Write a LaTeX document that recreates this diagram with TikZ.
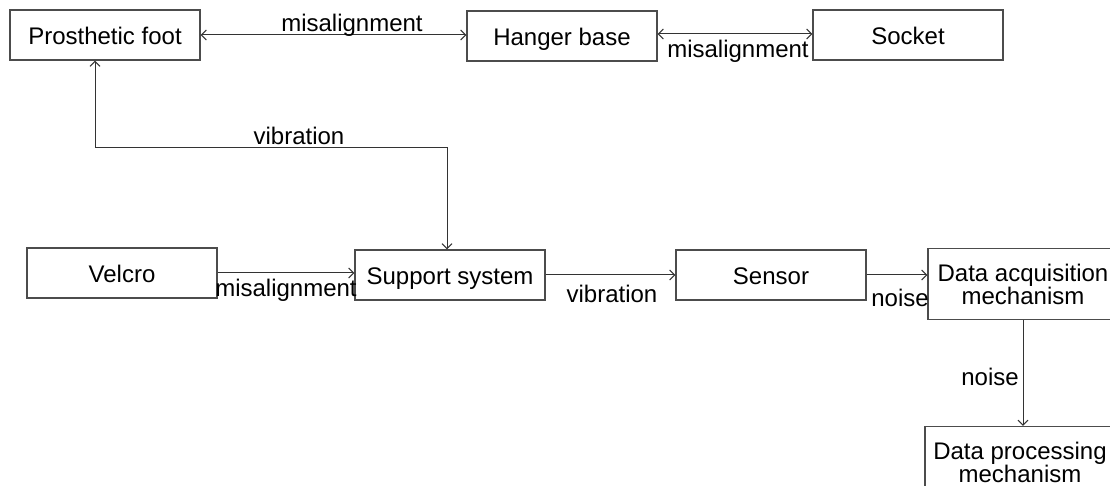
\documentclass[tikz,border=0pt]{standalone}
\usepackage{fontspec}
\setmainfont{Liberation Sans}
\usetikzlibrary{arrows.meta}

\begin{document}
\begin{tikzpicture}[x=0.5pt, y=-0.5pt, >={Straight Barb[length=2.5pt,width=5pt]},
    block/.style={draw=black!70, line width=0.6pt, minimum width=95pt, minimum height=25pt,
        inner sep=0pt, align=center, font=\fontsize{12}{11.5}\selectfont},
    oneline/.style={block, text height=10.5pt, text depth=0.9pt},
    tag/.style={inner sep=0pt, font=\fontsize{12}{14}\selectfont},
    link/.style={line width=0.5pt, draw=black!80}]
    \useasboundingbox (0,0) rectangle (1110,486);

    \node[oneline] (foot) at (105,35) {Prosthetic foot};
    \node[oneline] (hanger) at (562,36) {Hanger base};
    \node[oneline] (socket) at (908,35) {Socket};
    \node[oneline] (velcro) at (122,273) {Velcro};
    \node[oneline] (support) at (450,275) {Support system};
    \node[oneline] (sensor) at (771,275) {Sensor};
    \node[block, minimum height=35.5pt] (daq) at (1023,284) {Data acquisition\\mechanism};
    \node[block, minimum height=35.5pt] (dproc) at (1020,462) {Data processing\\mechanism};

    \coordinate (bend) at (447,148);
    \draw[<->, link] (foot.east) -- (foot.east -| hanger.west);
    \draw[<->, link] ([yshift=1pt]hanger.east) -- ([yshift=1pt]hanger.east -| socket.west);
    \draw[<->, link] ([xshift=-5pt]foot.south) |- (bend) -- (bend |- support.north);
    \draw[->, link] (velcro.east) -- (velcro.east -| support.west);
    \draw[->, link] (support.east) -- (sensor.west);
    \draw[->, link] (sensor.east) -- (sensor.east -| daq.west);
    \draw[->, link] (daq.south) -- (daq.south |- dproc.north);

    \node[tag] (misTop) at (352,25) {misalignment};
    \node[tag] (misRight) at (738,51) {misalignment};
    \node[tag] (vibTop) at (299,136) {vibration};
    \node[tag] (misLow) at (286,290) {misalignment};
    \node[tag] (vibLow) at (612,294) {vibration};
    \node[tag] (noiseA) at (900,298) {noise};
    \node[tag] (noiseB) at (990,377) {noise};
\end{tikzpicture}
\end{document}
